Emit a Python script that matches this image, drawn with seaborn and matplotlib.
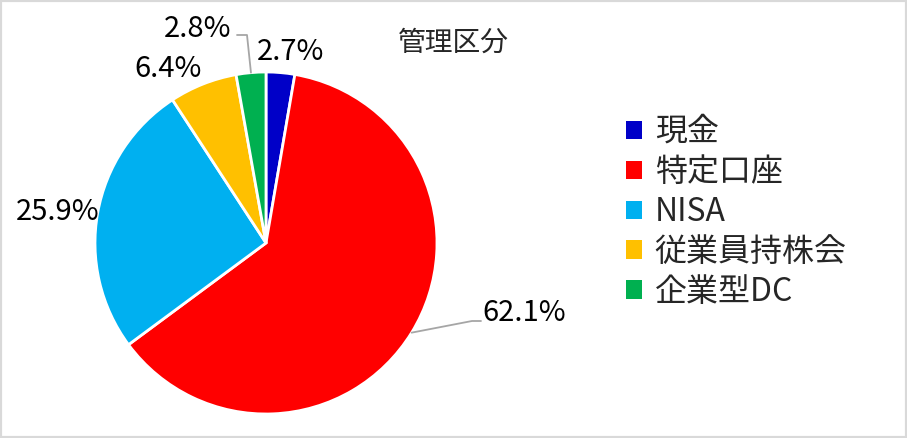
import numpy as np
import matplotlib
matplotlib.use('Agg')
from matplotlib import pyplot as plt
from matplotlib.patches import Patch, Rectangle
import seaborn as sns

# 管理区分ごとの比率
categories = ['現金', '特定口座', 'NISA', '従業員持株会', '企業型DC']
shares = [2.7, 62.1, 25.9, 6.4, 2.8]
colors = ['#0000C8', '#FF0000', '#00B0F0', '#FFC000', '#00B050']
pct_labels = ['2.7%', '62.1%', '25.9%', '6.4%', '2.8%']

sns.set_theme(style='white')
plt.rcParams['font.family'] = ['Noto Sans CJK JP', 'DejaVu Sans']

fig = plt.figure(figsize=(9.07, 4.38), dpi=100)
W, H = 907, 438
cx, cy, r = 266, 243, 171
ax = fig.add_axes([(cx - r) / W, (H - cy - r) / H, 2 * r / W, 2 * r / H])

wedges, _ = ax.pie(shares, colors=colors, startangle=90, counterclock=False,
                   radius=1, wedgeprops=dict(edgecolor='white', linewidth=2))
ax.set_xlim(-1, 1)
ax.set_ylim(-1, 1)
ax.set_aspect('equal')
ax.axis('off')

# ラベル位置（半径単位）
label_pos = [(0.146, 1.117), (1.51, -0.41), (-1.22, 0.18), (-0.57, 1.02), (-0.40, 1.25)]
for (x, y), txt in zip(label_pos, pct_labels):
    ax.text(x, y, txt, ha='center', va='center', fontsize=21, color='black', clip_on=False)

# 引き出し線
mids = [np.deg2rad((w.theta1 + w.theta2) / 2) for w in wedges]
a = mids[1]
ax.plot([np.cos(a), (472 - cx) / r, (481 - cx) / r],
        [np.sin(a), (cy - 321) / r, (cy - 321) / r],
        color='#A6A6A6', lw=1.3, clip_on=False)
a = mids[4]
ax.plot([np.cos(a), (247 - cx) / r, (237 - cx) / r],
        [np.sin(a), (cy - 35) / r, (cy - 35) / r],
        color='#A6A6A6', lw=1.3, clip_on=False)

fig.text(453 / W, 1 - 43 / H, '管理区分', ha='center', va='center', fontsize=20)

handles = [Patch(facecolor=c, edgecolor='none') for c in colors]
fig.legend(handles, categories, loc='upper left', bbox_to_anchor=(610 / W, 1 - 100 / H),
           frameon=False, fontsize=23, handlelength=0.5, handleheight=0.5,
           handletextpad=0.4, labelspacing=0.25, borderpad=0)

fig.patches.append(Rectangle((0, 0), 1, 1, transform=fig.transFigure, fill=False,
                             edgecolor='#D9D9D9', linewidth=3))

fig.savefig('out.png', dpi=100)
